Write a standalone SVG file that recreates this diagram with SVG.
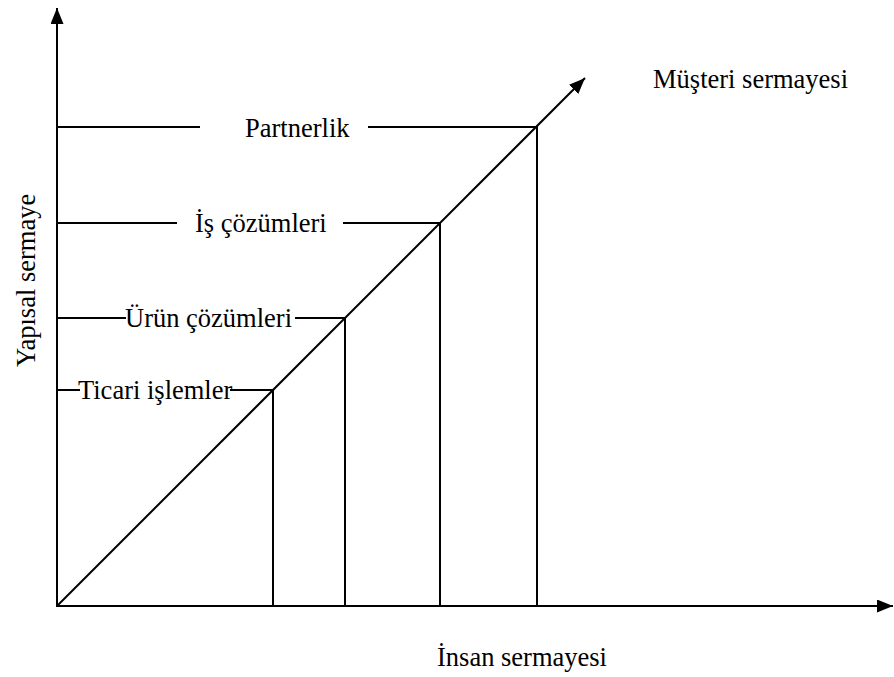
<svg xmlns="http://www.w3.org/2000/svg" width="894" height="677" viewBox="0 0 894 677">
<style>
.ln{stroke:#000;stroke-width:2;fill:none}
.t{font-family:"Liberation Serif","Times New Roman",serif;font-size:26.5px;fill:#000}
</style>
<defs>
<marker id="ah" markerUnits="userSpaceOnUse" markerWidth="17" markerHeight="13" refX="16" refY="6.5" orient="auto">
<path d="M0,0 L16,6.5 L0,13 z" fill="#000"/>
</marker>
</defs>
<rect width="894" height="677" fill="#fff"/>
<g id="axes">
<line class="ln" x1="57" y1="607" x2="57" y2="8" marker-end="url(#ah)"/>
<line class="ln" x1="56" y1="606" x2="893" y2="606" marker-end="url(#ah)"/>
<line class="ln" x1="57" y1="606" x2="585" y2="78" marker-end="url(#ah)"/>
</g>
<g id="connectors">
<line class="ln" x1="273" y1="390" x2="273" y2="606"/>
<line class="ln" x1="345" y1="318" x2="345" y2="606"/>
<line class="ln" x1="440" y1="223" x2="440" y2="606"/>
<line class="ln" x1="537" y1="126" x2="537" y2="606"/>
<line class="ln" x1="57" y1="127" x2="200" y2="127"/>
<line class="ln" x1="368" y1="127" x2="537" y2="127"/>
<line class="ln" x1="57" y1="223" x2="177" y2="223"/>
<line class="ln" x1="343" y1="223" x2="440" y2="223"/>
<line class="ln" x1="57" y1="318" x2="126" y2="318"/>
<line class="ln" x1="295" y1="318" x2="345" y2="318"/>
<line class="ln" x1="57" y1="390" x2="80" y2="390"/>
<line class="ln" x1="230" y1="390" x2="273" y2="390"/>
</g>
<g id="partnerlik"><text class="t" x="245" y="137">Partnerlik</text></g>
<g id="is-cozumleri"><text class="t" x="195" y="232">İş çözümleri</text></g>
<g id="urun-cozumleri"><text class="t" x="125" y="327">Ürün çözümleri</text></g>
<g id="ticari-islemler"><text class="t" x="78" y="399">Ticari işlemler</text></g>
<g id="musteri-sermayesi"><text class="t" x="653" y="88">Müşteri sermayesi</text></g>
<g id="insan-sermayesi"><text class="t" x="437" y="666">İnsan sermayesi</text></g>
<g id="yapisal-sermaye"><text class="t" transform="translate(35,367) rotate(-90)">Yapısal sermaye</text></g>
</svg>
